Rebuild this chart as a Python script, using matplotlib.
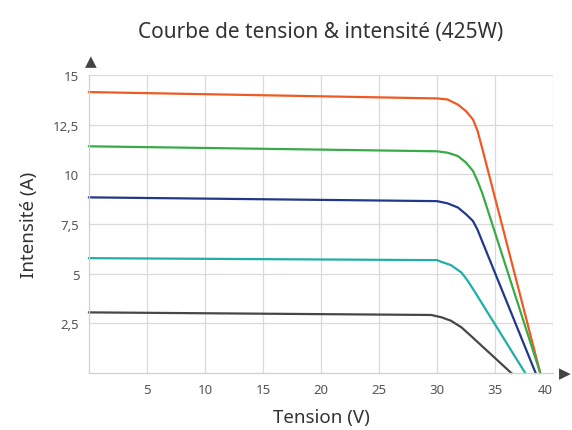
import matplotlib
matplotlib.use('Agg')
import matplotlib.pyplot as plt

# lecture des courbes I-V (tension V, intensité A)
v_orange = [0, 30, 30.9, 31.8, 32.5, 33.1, 33.5, 33.9, 34.3, 38.9]
i_orange = [14.14, 13.82, 13.77, 13.51, 13.18, 12.76, 12.18, 11.3, 10.4, 0]

v_green = [0, 30, 30.9, 31.8, 32.5, 33.1, 33.5, 33.9, 34.4, 38.9]
i_green = [11.41, 11.16, 11.09, 10.92, 10.59, 10.17, 9.66, 9.05, 8.15, 0]

v_blue = [0, 30, 30.9, 31.8, 32.5, 33.1, 33.5, 33.9, 34.4, 38.5]
i_blue = [8.84, 8.65, 8.54, 8.33, 7.99, 7.65, 7.2, 6.62, 5.9, 0]

v_teal = [0, 30, 30.4, 31.2, 32.1, 32.65, 33.2, 37.6]
i_teal = [5.78, 5.68, 5.59, 5.43, 5.06, 4.64, 4.14, 0]

v_gray = [0, 29.5, 30.4, 31.2, 32.1, 32.9, 36.4]
i_gray = [3.05, 2.92, 2.8, 2.63, 2.3, 1.88, 0]

x_ticks = [5, 10, 15, 20, 25, 30, 35, 40]
y_ticks = [2.5, 5, 7.5, 10, 12.5, 15]
y_labels = ['2,5', '5', '7,5', '10', '12,5', '15']

plt.rcParams['font.family'] = ['Noto Sans', 'DejaVu Sans']

fig = plt.figure(figsize=(5.72, 4.31), dpi=100)
ax = fig.add_axes([0.1556, 0.1323, 0.8112, 0.6914])

series = [
    (v_orange, i_orange, '#ef5a24'),
    (v_green, i_green, '#3aaa48'),
    (v_blue, i_blue, '#22388a'),
    (v_teal, i_teal, '#20aea6'),
    (v_gray, i_gray, '#474747'),
]
for v, i, c in series:
    ax.plot(v, i, color=c, lw=1.6, solid_joinstyle='round', clip_on=False)

ax.set_xlim(0, 40)
ax.set_ylim(0, 15)
ax.set_xticks(x_ticks)
ax.set_yticks(y_ticks)
ax.set_yticklabels(y_labels)
ax.tick_params(length=0, labelsize=9.5, colors='#555555', pad=7)
ax.grid(True, color='#dadada', lw=0.9)
ax.set_axisbelow(True)
for s in ax.spines.values():
    s.set_color('#d0d0d0')
    s.set_linewidth(0.9)
ax.spines['top'].set_visible(False)
ax.spines['right'].set_visible(False)
xl = ax.get_xticklabels()
xl[-1].set_horizontalalignment('right')

ax.set_xlabel('Tension (V)', fontsize=13.5, color='#333333', labelpad=9,
              fontweight='light')
ax.set_ylabel('Intensité (A)', fontsize=13.5, color='#333333', labelpad=11,
              fontweight='light')

ax.set_title('Courbe de tension & intensité (425W)', fontsize=15,
             color='#333333', pad=27, fontweight='light')

# flèches des axes
fig.text(0.159, 0.856, '\u25B2', fontsize=11, color='#444444', ha='center', va='center', family='DejaVu Sans')
fig.text(0.988, 0.132, '\u25B6', fontsize=11, color='#444444', ha='center', va='center', family='DejaVu Sans')

fig.savefig('out.png', dpi=100, facecolor='white')
